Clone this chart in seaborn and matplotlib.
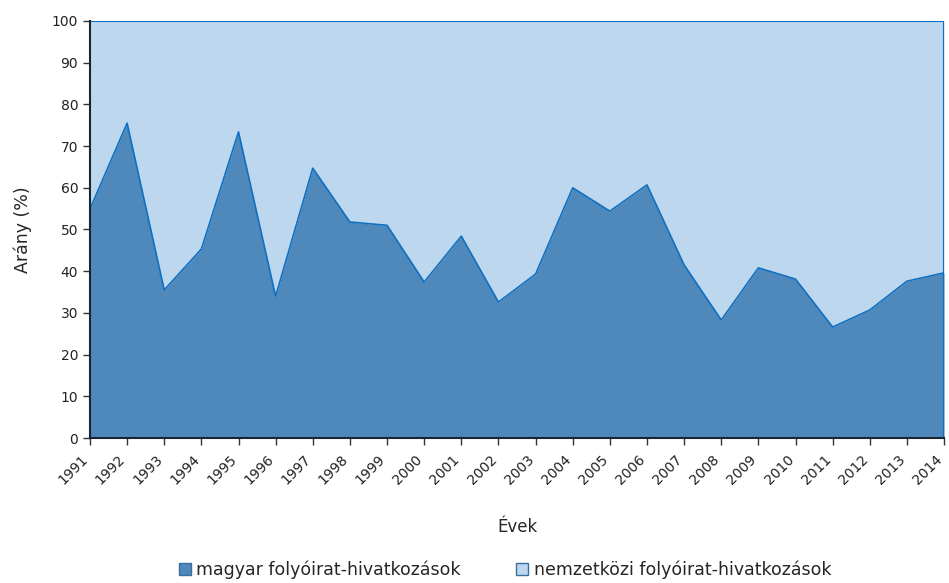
import matplotlib
matplotlib.use("Agg")
import matplotlib.pyplot as plt
import matplotlib.transforms as mtransforms
import seaborn as sns
import pandas as pd
from matplotlib.patches import Patch

# Adatok (leolvasva az eredeti ábráról)
evek = list(range(1991, 2015))
magyar = [54.9, 75.5, 35.5, 45.3, 73.4, 34.0, 64.7, 51.8, 51.0, 37.4, 48.4, 32.6,
          39.3, 60.0, 54.4, 60.7, 41.5, 28.3, 40.8, 38.1, 26.6, 30.7, 37.6, 39.6]
nemzetkozi = [100 - v for v in magyar]
sorozatok = ["magyar folyóirat-hivatkozások", "nemzetközi folyóirat-hivatkozások"]

szin_sotet = "#4f89bb"
szin_vilagos = "#bdd7ee"
szin_vonal = "#0f6fc0"

df = pd.DataFrame({"ev": evek, "magyar": magyar, "nemzetkozi": nemzetkozi})
df["osszes"] = df["magyar"] + df["nemzetkozi"]

sns.set_style("white")
plt.rcParams["font.family"] = ["DejaVu Sans"]

fig = plt.figure(figsize=(9.49, 5.83), dpi=100)
ax = fig.add_axes([0.0948, 0.2487, 0.9, 0.7153])

ax.fill_between(df["ev"], 0, df["magyar"], color=szin_sotet, linewidth=0)
ax.fill_between(df["ev"], df["magyar"], df["osszes"], color=szin_vilagos, linewidth=0)
sns.lineplot(data=df, x="ev", y="magyar", ax=ax, color=szin_vonal, linewidth=1.2)
sns.lineplot(data=df, x="ev", y="osszes", ax=ax, color=szin_vonal, linewidth=1.5)
ax.plot([evek[-1], evek[-1]], [0, 100], color=szin_vonal, linewidth=1.5)

ax.set_xlim(evek[0], evek[-1])
ax.set_ylim(0, 100)
ax.set_yticks(range(0, 101, 10))
ax.set_xticks(evek)
ax.set_xticklabels([str(e) for e in evek], rotation=45, ha="right", va="center",
                   rotation_mode="anchor")
ax.tick_params(axis="both", labelsize=10, length=5, width=1, color="#333333",
               direction="out", bottom=True, left=True, colors="#222222")
ax.tick_params(axis="x", pad=9)
eltolas = mtransforms.ScaledTranslation(-4 / 100, 0, fig.dpi_scale_trans)
for lbl in ax.get_xticklabels():
    lbl.set_transform(lbl.get_transform() + eltolas)

for s in ["top", "right"]:
    ax.spines[s].set_visible(False)
for s in ["left", "bottom"]:
    ax.spines[s].set_color("#1a2533")
    ax.spines[s].set_linewidth(1.5)

ax.set_xlabel("Évek", fontsize=12, labelpad=22)
ax.set_ylabel("Arány (%)", fontsize=12.5, labelpad=14)

kezek = [Patch(facecolor=szin_sotet, edgecolor="#3a6f9e", label=sorozatok[0]),
         Patch(facecolor=szin_vilagos, edgecolor="#3a6f9e", label=sorozatok[1])]
fig.legend(handles=kezek, loc="lower center", bbox_to_anchor=(0.532, -0.02), ncol=2,
           frameon=False, fontsize=12.5, handlelength=0.7, handleheight=0.7,
           handletextpad=0.3, columnspacing=3.2)

fig.savefig("out.png", dpi=100)
